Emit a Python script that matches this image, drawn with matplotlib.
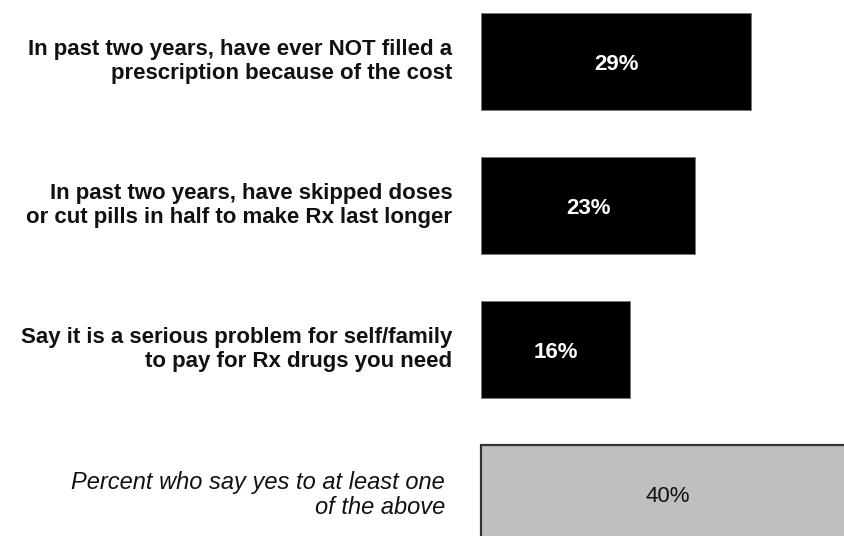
import matplotlib
matplotlib.use("Agg")
import matplotlib.pyplot as plt

labels = [
    "In past two years, have ever NOT filled a\nprescription because of the cost",
    "In past two years, have skipped doses\nor cut pills in half to make Rx last longer",
    "Say it is a serious problem for self/family\nto pay for Rx drugs you need",
    "Percent who say yes to at least one\nof the above",
]
values = [29, 23, 16, 40]
summary = [False, False, False, True]

plt.rcParams['font.family'] = ['Liberation Sans', 'DejaVu Sans']

fig = plt.figure(figsize=(8.45, 5.36), dpi=100)
ax = fig.add_axes([0, 0, 1, 1])

pos = list(range(len(values)))
colors = ['#bfbfbf' if s else 'black' for s in summary]
edges = ['#333333' if s else '#777777' for s in summary]
widths = [1.6 if s else 0.6 for s in summary]
ax.barh(pos, values, height=0.67, color=colors, edgecolor=edges, linewidth=widths)

for i, (lab, v, s) in enumerate(zip(labels, values, summary)):
    if s:
        ax.text(-3.9, i + 0.01, lab, ha='right', va='center', fontsize=17,
                style='italic', linespacing=1.13, color='#111111')
    else:
        ax.text(-3.1, i, lab, ha='right', va='center', fontsize=16,
                fontweight='bold', linespacing=1.13, color='#111111')
    ax.text(v / 2, i + 0.02, f"{v}%", ha='center', va='center', fontsize=16,
            fontweight='normal' if s else 'bold', color='#111111' if s else 'white')

ax.set_xlim(-51.7, 39.1)
ax.set_ylim(3.295, -0.427)
ax.axis('off')

fig.savefig("out.png", dpi=100)
